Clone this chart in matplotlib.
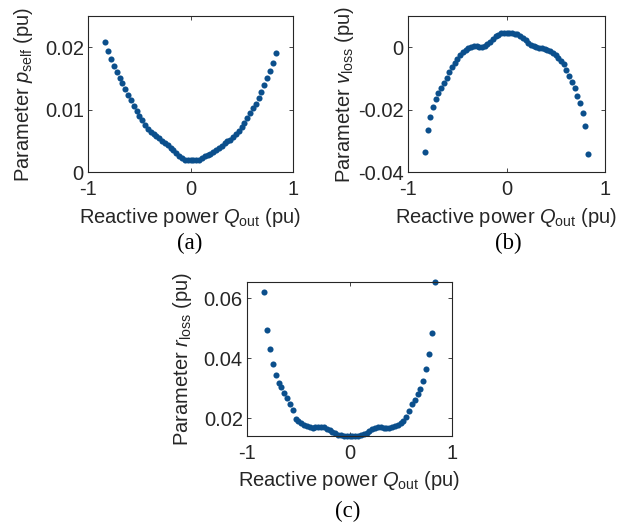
import numpy as np
import matplotlib
matplotlib.use('Agg')
import matplotlib.pyplot as plt

plt.rcParams['font.family'] = 'Liberation Sans'
plt.rcParams['mathtext.fontset'] = 'custom'
plt.rcParams['mathtext.rm'] = 'Liberation Sans'
plt.rcParams['mathtext.it'] = 'Liberation Sans:italic'
plt.rcParams['axes.unicode_minus'] = False

# Reactive power output samples (pu), shared by all three fits
Q_out = [-0.830, -0.802, -0.775, -0.747, -0.719, -0.692, -0.664, -0.636, -0.609, -0.581,
         -0.553, -0.526, -0.498, -0.470, -0.443, -0.415, -0.387, -0.360, -0.332, -0.304,
         -0.277, -0.249, -0.221, -0.194, -0.166, -0.138, -0.111, -0.083, -0.055, -0.028,
         0.000, 0.028, 0.055, 0.083, 0.111, 0.138, 0.166, 0.194, 0.221, 0.249,
         0.277, 0.304, 0.332, 0.360, 0.387, 0.415, 0.443, 0.470, 0.498, 0.526,
         0.553, 0.581, 0.609, 0.636, 0.664, 0.692, 0.719, 0.747, 0.775, 0.802, 0.830]

# (a) self-consumption parameter
p_self = [0.0209, 0.0194, 0.0181, 0.0170, 0.0161, 0.0151, 0.0142, 0.0133, 0.0124, 0.0115,
          0.0106, 0.0098, 0.0089, 0.0083, 0.0076, 0.0069, 0.0064, 0.0061, 0.0057, 0.0054,
          0.0050, 0.0047, 0.0043, 0.0039, 0.0035, 0.0030, 0.0026, 0.0023, 0.0020, 0.0019,
          0.0019, 0.0019, 0.0019, 0.0020, 0.0022, 0.0025, 0.0027, 0.0029, 0.0032, 0.0035,
          0.0039, 0.0042, 0.0046, 0.0049, 0.0052, 0.0056, 0.0061, 0.0066, 0.0072, 0.0079,
          0.0086, 0.0095, 0.0103, 0.0109, 0.0118, 0.0128, 0.0139, 0.0151, 0.0162, 0.0174, 0.0191]

# (b) voltage-dependent loss parameter
v_loss = [-0.0336, -0.0264, -0.0224, -0.0192, -0.0166, -0.0146, -0.0130, -0.0115, -0.0099, -0.0081,
          -0.0065, -0.0050, -0.0037, -0.0025, -0.0016, -0.0008, -0.0002, 0.0002, 0.0004, 0.0004,
          0.0002, 0.0001, 0.0004, 0.0010, 0.0018, 0.0027, 0.0035, 0.0040, 0.0044, 0.0046,
          0.0046, 0.0045, 0.0044, 0.0043, 0.0041, 0.0037, 0.0031, 0.0023, 0.0015, 0.0008,
          0.0003, 0.0000, -0.0001, -0.0003, -0.0006, -0.0009, -0.0013, -0.0019, -0.0026, -0.0034,
          -0.0043, -0.0055, -0.0073, -0.0092, -0.0111, -0.0131, -0.0155, -0.0178, -0.0211, -0.0254, -0.0342]

# (c) resistive loss parameter
r_loss = [0.0622, 0.0493, 0.0431, 0.0382, 0.0345, 0.0317, 0.0304, 0.0285, 0.0267, 0.0248,
          0.0228, 0.0198, 0.0190, 0.0183, 0.0177, 0.0172, 0.0169, 0.0168, 0.0169, 0.0171,
          0.0171, 0.0169, 0.0165, 0.0160, 0.0154, 0.0149, 0.0145, 0.0142, 0.0141, 0.0140,
          0.0140, 0.0140, 0.0140, 0.0141, 0.0143, 0.0146, 0.0151, 0.0157, 0.0163, 0.0167,
          0.0169, 0.0169, 0.0168, 0.0167, 0.0168, 0.0170, 0.0173, 0.0177, 0.0183, 0.0191,
          0.0203, 0.0222, 0.0246, 0.0261, 0.0279, 0.0298, 0.0324, 0.0363, 0.0413, 0.0483, 0.0655]

dot_color = '#0b4f8c'
W, H = 635, 525
fs = 14.5
fig = plt.figure(figsize=(W/100, H/100), dpi=100)

def add_panel(box, y, ylim, yticks, yticklabels, ylab, tag, tag_xy):
    l, t, r, b = box
    ax = fig.add_axes([l/W, 1-b/H, (r-l)/W, (b-t)/H])
    ax.plot(Q_out, y, 'o', color=dot_color, markersize=4.4, markeredgewidth=0, clip_on=False)
    ax.set_xlim(-1, 1)
    ax.set_ylim(*ylim)
    ax.set_xticks([-1, 0, 1])
    ax.set_xticklabels(['-1', '0', '1'])
    ax.set_yticks(yticks)
    ax.set_yticklabels(yticklabels)
    ax.tick_params(direction='in', top=True, right=True, length=3, width=0.6,
                   labelsize=fs, colors='#262626', pad=3)
    ax.tick_params(axis='x', pad=6)
    for s in ax.spines.values():
        s.set_linewidth(0.8)
        s.set_color('#262626')
    ax.set_xlabel(r'Reactive power $Q_\mathrm{out}$ (pu)', fontsize=fs, color='#262626')
    ax.set_ylabel(ylab, fontsize=fs, color='#262626')
    ax.xaxis.set_label_coords(0.5, -33.5/(b-t))
    ax.yaxis.set_label_coords(-52.5/(r-l), 0.5)
    fig.text(tag_xy[0]/W, 1-tag_xy[1]/H, tag, family='Liberation Serif', fontsize=16.5,
             ha='center', va='center')
    return ax

add_panel((88, 16, 293, 172), p_self, (0, 0.025), [0, 0.01, 0.02], ['0', '0.01', '0.02'],
          r'Parameter $p_\mathrm{self}$ (pu)', '(a)', (190, 243))
add_panel((408, 16, 605, 172), v_loss, (-0.04, 0.01), [-0.04, -0.02, 0], ['-0.04', '-0.02', '0'],
          r'Parameter $v_\mathrm{loss}$ (pu)', '(b)', (508, 243))
add_panel((247, 282, 452, 436), r_loss, (min(r_loss), max(r_loss)), [0.02, 0.04, 0.06],
          ['0.02', '0.04', '0.06'], r'Parameter $r_\mathrm{loss}$ (pu)', '(c)', (348, 511))

fig.savefig('out.png', dpi=100)
